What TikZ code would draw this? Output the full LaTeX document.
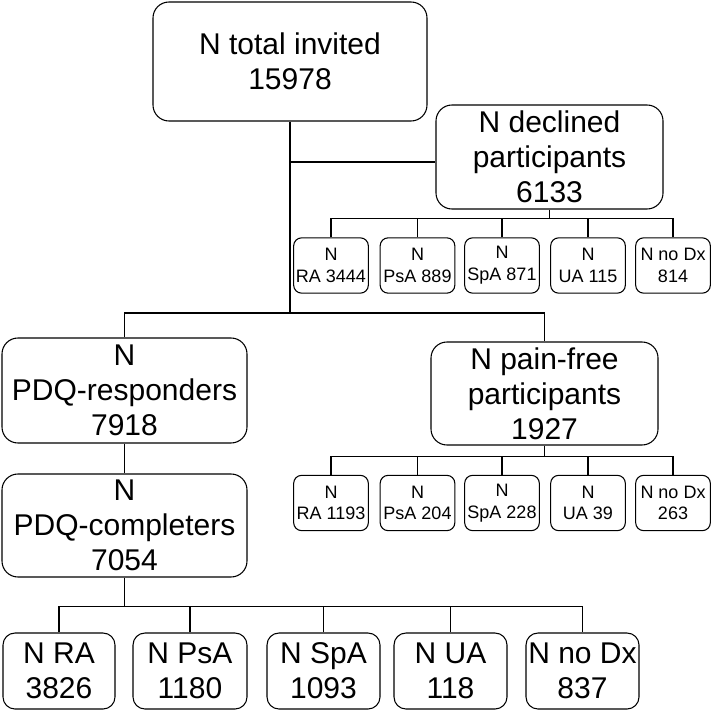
\documentclass[tikz,border=0pt]{standalone}
\usepackage{fontspec}
\setmainfont{Liberation Sans}
\begin{document}
\begin{tikzpicture}[x=0.75pt,y=-0.75pt,
  line width=0.8pt,
  bigbox/.style={draw, rounded corners=12pt, inner sep=0pt, align=center,
    font=\fontsize{22.5}{26.25}\selectfont},
  midbox/.style={draw, rounded corners=9pt, inner sep=0pt, align=center,
    font=\fontsize{22.5}{26.25}\selectfont, minimum height=57pt},
  smallbox/.style={draw, rounded corners=6pt, inner sep=0pt, align=center,
    font=\fontsize{13.5}{16.3}\selectfont, minimum width=56pt, minimum height=41.5pt},
  conn/.style={draw, line width=0.8pt}]
\useasboundingbox (0,0) rectangle (712,712);

% main boxes
\node[bigbox, minimum width=205.5pt, minimum height=89.25pt] (top) at (290,61.5) {N total invited\\15978};
\node[bigbox, minimum width=170.25pt, minimum height=78pt] (decl) at (549.5,157) {N declined\\participants\\6133};
\node[bigbox, minimum width=183.75pt, minimum height=78.75pt] (resp) at (124.5,390.5) {N\\PDQ-responders\\7918};
\node[bigbox, minimum width=183.75pt, minimum height=77.25pt] (comp) at (124.5,525.5) {N\\PDQ-completers\\7054};
\node[bigbox, minimum width=170.25pt, minimum height=77.25pt] (pain) at (544.5,393.5) {N pain-free\\participants\\1927};

% declined sub boxes
\node[smallbox] (d1) at (331,265.5) {N\\RA 3444};
\node[smallbox] (d2) at (417.5,265.5) {N\\PsA 889};
\node[smallbox] (d3) at (502,265.5) {N\\SpA 871};
\node[smallbox] (d4) at (588,265.5) {N\\UA 115};
\node[smallbox] (d5) at (673,265.5) {N no Dx\\814};

% pain-free sub boxes
\node[smallbox] (p1) at (331,503) {N\\RA 1193};
\node[smallbox] (p2) at (417.5,503) {N\\PsA 204};
\node[smallbox] (p3) at (502,503) {N\\SpA 228};
\node[smallbox] (p4) at (588,503) {N\\UA 39};
\node[smallbox] (p5) at (673,503) {N no Dx\\263};

% completers sub boxes
\node[midbox, minimum width=84pt] (b1) at (59,671) {N RA\\3826};
\node[midbox, minimum width=85.5pt] (b2) at (190,671) {N PsA\\1180};
\node[midbox, minimum width=84.75pt] (b3) at (323.5,671) {N SpA\\1093};
\node[midbox, minimum width=84.75pt] (b4) at (450.5,671) {N UA\\118};
\node[midbox, minimum width=84.75pt] (b5) at (582.5,671) {N no Dx\\837};

% coordinates of bus lines
\coordinate (trunkEnd) at (290,313);
\coordinate (declJoin) at (290,162);

% trunk
\draw[conn] (top.south) -- (trunkEnd);
\draw[conn] (declJoin) -- (declJoin -| decl.west);
\draw[conn] (resp.north) |- (trunkEnd) -| (pain.north);

% declined bus
\draw[conn] (decl.south) -- ++(0,9) coordinate (db);
\draw[conn] (d1.north) |- (db) -| (d5.north);
\foreach \n in {d2,d3,d4} \draw[conn] (\n.north) -- (\n.north |- db);

% pain-free bus
\draw[conn] (pain.south) -- ++(0,11) coordinate (pb);
\draw[conn] (p1.north) |- (pb) -| (p5.north);
\foreach \n in {p2,p3,p4} \draw[conn] (\n.north) -- (\n.north |- pb);

% responders to completers
\draw[conn] (resp.south) -- (comp.north);

% completers bus
\draw[conn] (comp.south) -- ++(0,29) coordinate (cb);
\draw[conn] (b1.north) |- (cb) -| (b5.north);
\foreach \n in {b2,b3,b4} \draw[conn] (\n.north) -- (\n.north |- cb);
\end{tikzpicture}
\end{document}
